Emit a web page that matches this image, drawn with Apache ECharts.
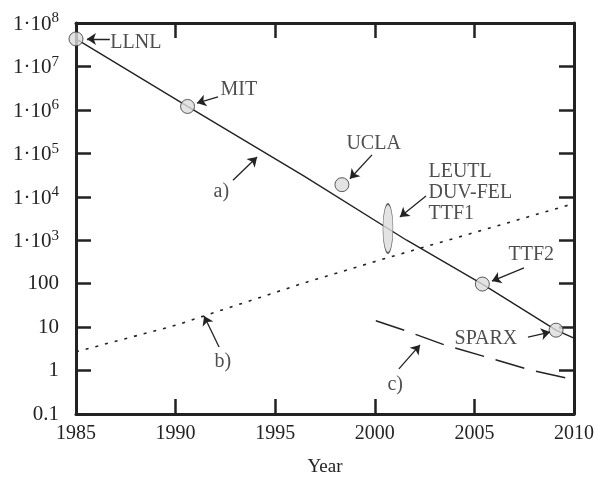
<!DOCTYPE html>
<html>
<head>
<meta charset="utf-8">
<script src="https://cdn.jsdelivr.net/npm/echarts@6/dist/echarts.min.js"></script>
<style>
    html, body { margin: 0; padding: 0; background: #fff; }
    #main { width: 608px; height: 483px; }
</style>
</head>
<body>
<div id="main"></div>
<script>
var FONT = '"Liberation Serif", "DejaVu Serif", serif';
var INK = '#222';

// a) solid line
var aYears = [1985, 1990.6, 1996.45, 2001.6, 2005.4, 2009.1, 2010];
var aValues = [4.3e7, 1.2e6, 3.0e4, 1000, 98, 8.5, 5.6];
// b) dotted line
var bYears = [1985, 1990, 1996.45, 2000.6, 2010];
var bValues = [2.7, 11, 104, 390, 7000];
// c) dashed line
var cYears = [2000.05, 2001.6, 2003.5, 2005.6, 2007.8, 2009.85];
var cValues = [14, 8.1, 3.9, 2.05, 1.03, 0.64];

// facilities (circles)
var facNames = ['LLNL', 'MIT', 'UCLA', 'TTF2', 'SPARX'];
var facYears = [1985, 1990.6, 1998.35, 2005.4, 2009.1];
var facValues = [4.3e7, 1.2e6, 1.9e4, 98, 8.5];
// LEUTL / DUV-FEL / TTF1 ellipse
var ellYear = 2000.66;
var ellValue = 1860;

// annotation texts (left edge, vertical middle)
var noteTexts = ['LLNL', 'MIT', 'a)', 'UCLA', 'LEUTL\nDUV-FEL\nTTF1', 'TTF2', 'SPARX', 'b)', 'c)'];
var noteYears = [1986.7, 1992.23, 1991.88, 1998.55, 2002.67, 2006.69, 2003.98, 1991.93, 2000.61];
var noteValues = [3.5e7, 2.9e6, 1.3e4, 1.7e5, 1.22e4, 457, 5.3, 1.57, 0.47];

// arrows: from -> tip
var arrowFrom = [[1986.7, 4.3e7], [1992.13, 2.0e6], [1992.88, 2.4e4], [1999.86, 9.2e4], [2002.57, 1.04e4],
    [2007.49, 230], [2007.69, 5.9], [1992.18, 3.5], [2001.21, 1.09]];
var arrowTip = [[1985.55, 4.3e7], [1991.07, 1.44e6], [1994.09, 8.2e4], [1998.75, 2.6e4], [2001.26, 3430],
    [2005.88, 115], [2008.8, 7.7], [1991.43, 18], [2002.27, 3.9]];

function pair(xs, ys) {
    return xs.map(function (x, i) { return [x, ys[i]]; });
}

function yLabel(v) {
    var e = Math.round(Math.log10(v));
    if (e >= 3) return '{b|1·10}{s|' + e + '}';
    if (e < 0) return '{b|0.1}';
    return '{b|' + Math.round(v) + '}';
}

var chart = echarts.init(document.getElementById('main'));

var axisLine = { show: true, lineStyle: { color: INK, width: 3 } };
var tick = { show: true, inside: true, length: 15, lineStyle: { color: INK, width: 2.5 } };

var option = {
    animation: false,
    backgroundColor: '#fff',
    grid: { left: 76, right: 34, top: 23, bottom: 69 },
    xAxis: [{
        type: 'value',
        min: 1985, max: 2010, interval: 5,
        position: 'bottom',
        axisLine: axisLine,
        axisTick: tick,
        splitLine: { show: false },
        axisLabel: {
            color: INK, fontFamily: FONT, fontSize: 20, margin: 10,
            formatter: function (v) { return String(v); }
        },
        name: 'Year',
        nameLocation: 'middle',
        nameGap: 44,
        nameTextStyle: { color: INK, fontFamily: FONT, fontSize: 19 }
    }, {
        type: 'value',
        min: 1985, max: 2010, interval: 5,
        position: 'top',
        axisLine: axisLine,
        axisTick: tick,
        axisLabel: { show: false },
        splitLine: { show: false }
    }],
    yAxis: [{
        type: 'log',
        logBase: 10,
        min: 0.1, max: 1e8, interval: 1,
        position: 'left',
        axisLine: axisLine,
        axisTick: tick,
        minorTick: { show: false },
        splitLine: { show: false },
        axisLabel: {
            margin: 17,
            formatter: yLabel,
            rich: {
                b: { color: INK, fontFamily: FONT, fontSize: 21, verticalAlign: 'bottom' },
                s: { color: INK, fontFamily: FONT, fontSize: 15, verticalAlign: 'bottom', padding: [0, 0, 9, 0] }
            }
        }
    }, {
        type: 'log',
        logBase: 10,
        min: 0.1, max: 1e8, interval: 1,
        position: 'right',
        axisLine: axisLine,
        axisTick: tick,
        axisLabel: { show: false },
        splitLine: { show: false }
    }],
    series: [{
        name: 'a)',
        type: 'line',
        data: pair(aYears, aValues),
        symbol: 'none',
        lineStyle: { color: INK, width: 1.4 },
        z: 2
    }, {
        name: 'b)',
        type: 'line',
        data: pair(bYears, bValues),
        symbol: 'none',
        lineStyle: { color: INK, width: 1.6, type: [3, 7] },
        z: 2
    }, {
        name: 'c)',
        type: 'line',
        data: pair(cYears, cValues),
        symbol: 'none',
        lineStyle: { color: INK, width: 1.4, type: [30, 12] },
        z: 2
    }, {
        name: 'facilities',
        type: 'scatter',
        data: pair(facYears, facValues),
        symbol: 'circle',
        symbolSize: 14,
        itemStyle: { color: '#dcdcdc', borderColor: '#333', borderWidth: 1 },
        z: 5
    }, {
        name: 'ellipse',
        type: 'scatter',
        data: [[ellYear, ellValue]],
        symbol: 'circle',
        symbolSize: [10, 49],
        itemStyle: { color: '#dcdcdc', borderColor: '#333', borderWidth: 1 },
        z: 5
    }, {
        name: 'arrows',
        type: 'lines',
        coordinateSystem: 'cartesian2d',
        symbol: ['none', 'arrow'],
        symbolSize: [0, 9],
        lineStyle: { color: INK, width: 1.3, opacity: 1 },
        data: arrowFrom.map(function (f, i) { return { coords: [f, arrowTip[i]] }; }),
        z: 6
    }, {
        name: 'notes',
        type: 'scatter',
        symbolSize: 1,
        itemStyle: { color: 'rgba(0,0,0,0)' },
        data: noteTexts.map(function (t, i) {
            return { name: t, value: [noteYears[i], noteValues[i]] };
        }),
        label: {
            show: true,
            position: 'right',
            distance: 0,
            align: 'left',
            formatter: '{b}',
            color: INK,
            fontFamily: FONT,
            fontSize: 20,
            lineHeight: 21
        },
        z: 7
    }]
};

chart.setOption(option);
</script>
</body>
</html>
